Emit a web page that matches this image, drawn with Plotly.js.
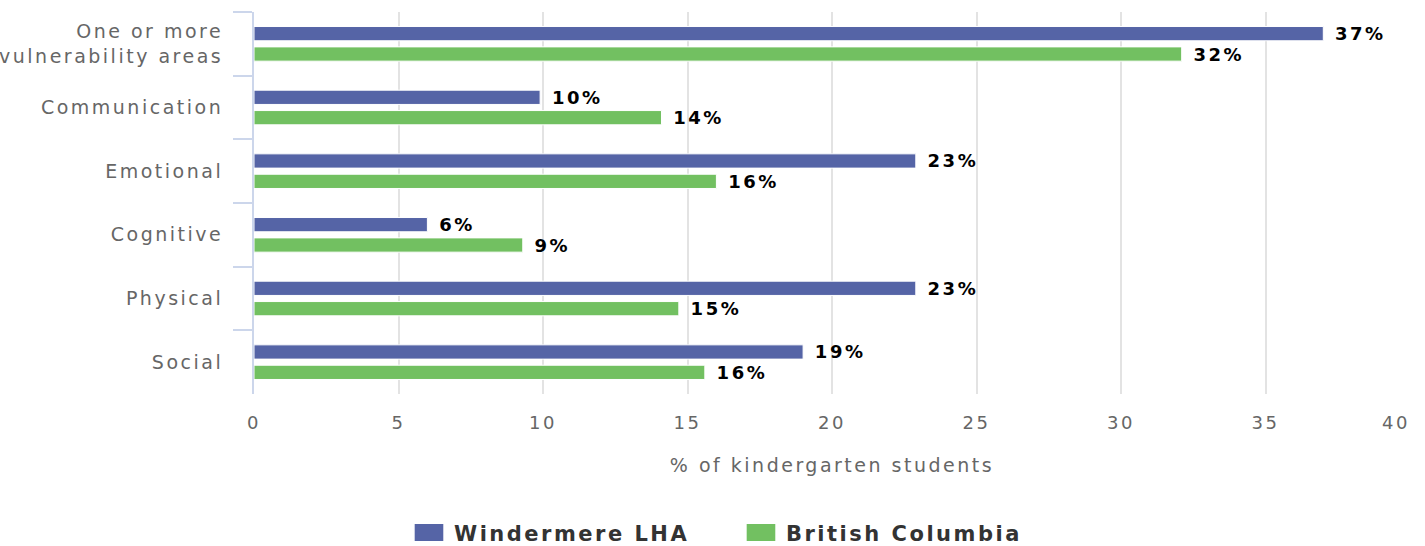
<!DOCTYPE html>
<html>
<head>
<meta charset="utf-8">
<script src="https://cdn.plot.ly/plotly-3.0.1.min.js"></script>
<style>
html, body { margin: 0; padding: 0; background: #fff; }
#chart { width: 1425px; height: 546px; }
svg text { letter-spacing: 2.5px; }
.legend .legendpoints path { transform: translate(15px, 0px) scale(2.6, 1.55); }
/* last x tick label kept inside the chart edge, as in the reference */
.xaxislayer-above .xtick:last-child text { text-anchor: end; }
</style>
</head>
<body>
<div id="chart"></div>
<script>
const categories = ["One or more<br>vulnerability areas", "Communication", "Emotional", "Cognitive", "Physical", "Social"];
const windermere = [37.0, 9.9, 22.9, 6.0, 22.9, 19.0];
const britishColumbia = [32.1, 14.1, 16.0, 9.3, 14.7, 15.6];
const seriesNames = ["Windermere LHA", "British Columbia"];
const xTicks = [0, 5, 10, 15, 20, 25, 30, 35, 40];

const font = "DejaVu Sans, Verdana, sans-serif";
const labelFont = { family: font, size: 18, color: "#000", weight: "bold" };

const traces = [
  {
    type: "bar", orientation: "h", name: seriesNames[0],
    y: categories, x: windermere,
    marker: { color: "#5564a6", line: { color: "#ffffff", width: 1 } },
    texttemplate: "\u00a0%{x:.0f}%", textposition: "outside", cliponaxis: false,
    constraintext: "none", textfont: labelFont, hoverinfo: "x+name"
  },
  {
    type: "bar", orientation: "h", name: seriesNames[1],
    y: categories, x: britishColumbia,
    marker: { color: "#72c061", line: { color: "#ffffff", width: 1 } },
    texttemplate: "\u00a0%{x:.0f}%", textposition: "outside", cliponaxis: false,
    constraintext: "none", textfont: labelFont, hoverinfo: "x+name"
  }
];

const layout = {
  width: 1425, height: 546,
  margin: { l: 253.5, r: 15, t: 12, b: 152 },
  paper_bgcolor: "#fff", plot_bgcolor: "#fff",
  barmode: "group", bargap: 0.36, bargroupgap: 0.3,
  font: { family: font, color: "#666" },
  showlegend: true,
  legend: {
    orientation: "h", xref: "container", yref: "container",
    x: 0.5235, xanchor: "center", y: 0.024, yanchor: "middle",
    font: { family: font, size: 21, color: "#333", weight: "bold" },
    itemwidth: 30, traceorder: "normal",
    entrywidth: 287, entrywidthmode: "pixels"
  },
  xaxis: {
    range: [0, 40], tickvals: xTicks, ticktext: xTicks.map(String),
    showgrid: true, gridcolor: "#e3e3e3", gridwidth: 1.5,
    zeroline: false, showline: false, ticks: "",
    tickfont: { family: font, size: 18, color: "#666" },
    ticklabelstandoff: 16, ticklabeloverflow: "allow",
    title: { text: "% of kindergarten students", font: { family: font, size: 19, color: "#666" }, standoff: 26 },
    fixedrange: true
  },
  yaxis: {
    type: "category", autorange: "reversed",
    showline: true, linecolor: "#ccd6eb", linewidth: 2,
    ticks: "outside", tickson: "boundaries", ticklen: 19, tickcolor: "#ccd6eb", tickwidth: 1.5,
    showgrid: false, zeroline: false,
    tickfont: { family: font, size: 19, color: "#666" },
    ticklabelstandoff: 25,
    fixedrange: true
  }
};

Plotly.newPlot("chart", traces, layout, { displayModeBar: false });
</script>
</body>
</html>
